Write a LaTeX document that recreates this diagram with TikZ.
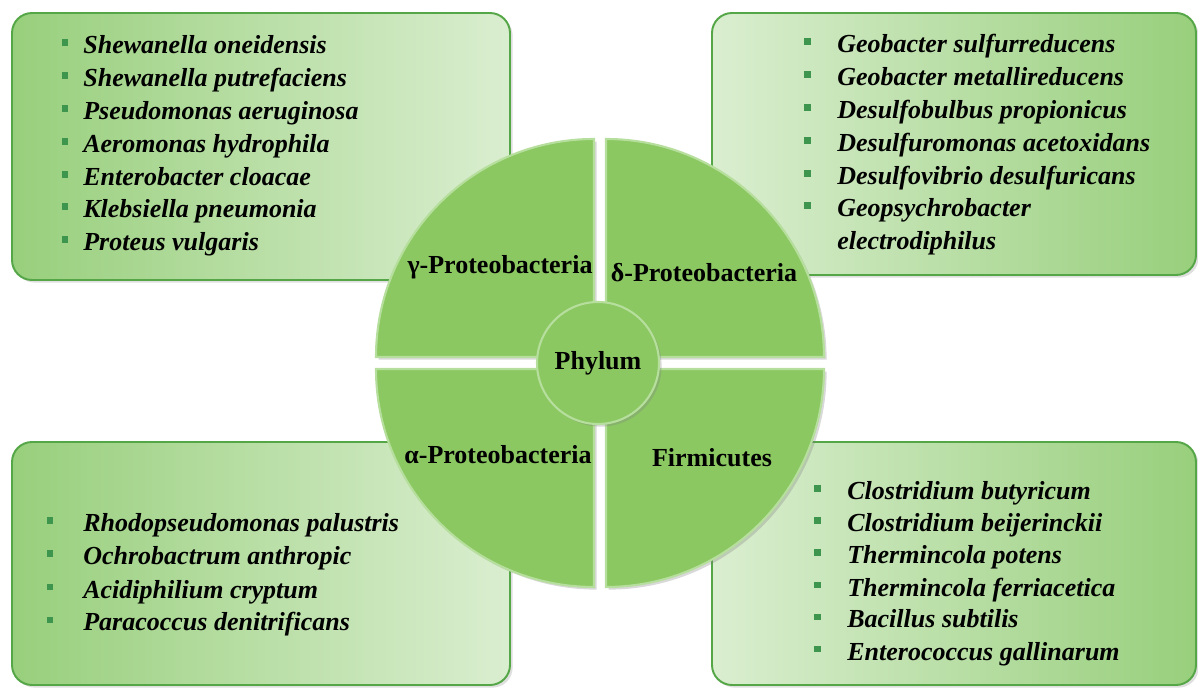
\documentclass[tikz,border=0pt]{standalone}
\usepackage{fontspec}
\setmainfont{Liberation Serif}
\usetikzlibrary{shadows}
\definecolor{boxdark}{RGB}{152,207,124}
\definecolor{boxlight}{RGB}{218,238,208}
\definecolor{boxline}{RGB}{84,166,70}
\definecolor{quadfill}{RGB}{139,200,98}
\definecolor{quadedge}{RGB}{182,222,156}
\definecolor{dotgreen}{RGB}{62,150,78}
\newcommand{\listfont}{\fontsize{14.8pt}{17pt}\selectfont\bfseries\itshape}
\newcommand{\quadfont}{\fontsize{14.8pt}{17pt}\selectfont\bfseries}

\begin{document}
\begin{tikzpicture}[x=0.02cm,y=0.02cm,
    listbox/.style={draw=boxline,line width=1.1pt,rounded corners=0.4cm,
      drop shadow={shadow xshift=1.5pt,shadow yshift=-1.5pt,opacity=0.25}},
    quad/.style={fill=quadfill,draw=quadedge,line width=1.2pt,
      drop shadow={shadow xshift=1.5pt,shadow yshift=-1.5pt,opacity=0.3}},
    dot/.style={fill=dotgreen,inner sep=0pt,minimum size=0.14cm},
    item/.style={anchor=base west,inner sep=0pt,font=\listfont},
    qlabel/.style={inner sep=0pt,font=\quadfont}]
    \useasboundingbox (0,0) rectangle (1198,687);

    % species boxes
    \path[listbox,left color=boxdark,right color=boxlight] (12,407) rectangle (510,674);
    \path[listbox,left color=boxlight,right color=boxdark] (712,412) rectangle (1196,674);
    \path[listbox,left color=boxdark,right color=boxlight] (12,2) rectangle (510,245);
    \path[listbox,left color=boxlight,right color=boxdark] (712,2) rectangle (1196,245);

    % quarters of the wheel
    \draw[quad] (594,330) -- (376,330) arc[start angle=180,end angle=90,radius=218] -- cycle;
    \draw[quad] (606,330) -- (824,330) arc[start angle=0,end angle=90,radius=218] -- cycle;
    \draw[quad] (594,318) -- (376,318) arc[start angle=180,end angle=270,radius=218] -- cycle;
    \draw[quad] (606,318) -- (824,318) arc[start angle=0,end angle=-90,radius=218] -- cycle;
    \node[circle,minimum size=2.44cm,inner sep=0pt,fill=quadfill,draw=quadedge,line width=1.2pt,
      drop shadow={shadow xshift=1.5pt,shadow yshift=-1.5pt,opacity=0.3},font=\quadfont] (phylum) at (598,324) {Phylum};

    \node[qlabel] (gamma) at (500,420) {γ-Proteobacteria};
    \node[qlabel] (delta) at (704,414) {δ-Proteobacteria};
    \node[qlabel] (alpha) at (498,232) {α-Proteobacteria};
    \node[qlabel] (firm) at (712,229) {Firmicutes};

    % gamma list
    \foreach \sp [count=\i from 0] in {Shewanella oneidensis,Shewanella putrefaciens,
        Pseudomonas aeruginosa,Aeromonas hydrophila,Enterobacter cloacae,
        Klebsiella pneumonia,Proteus vulgaris} {
      \node[dot] (gd\i) at (65,{644-32.8*\i}) {};
      \node[item] (g\i) at (83,{633-32.8*\i}) {\sp};
    }
    % delta list
    \foreach \sp [count=\i from 0] in {Geobacter sulfurreducens,Geobacter metallireducens,
        Desulfobulbus propionicus,Desulfuromonas acetoxidans,Desulfovibrio desulfuricans,
        Geopsychrobacter} {
      \node[dot] (dd\i) at (807,{645-32.8*\i}) {};
      \node[item] (d\i) at (837,{634-32.8*\i}) {\sp};
    }
    \node[item] (d6) at (837,{634-32.8*6}) {electrodiphilus};
    % alpha list
    \foreach \sp [count=\i from 0] in {Rhodopseudomonas palustris,Ochrobactrum anthropic,
        Acidiphilium cryptum,Paracoccus denitrificans} {
      \node[dot] (ad\i) at (50,{166-33*\i}) {};
      \node[item] (a\i) at (83,{155-33*\i}) {\sp};
    }
    % firmicutes list
    \foreach \sp [count=\i from 0] in {Clostridium butyricum,Clostridium beijerinckii,
        Thermincola potens,Thermincola ferriacetica,Bacillus subtilis,
        Enterococcus gallinarum} {
      \node[dot] (fd\i) at (817,{198-32*\i}) {};
      \node[item] (f\i) at (847,{187-32*\i}) {\sp};
    }
  \end{tikzpicture}
\end{document}
